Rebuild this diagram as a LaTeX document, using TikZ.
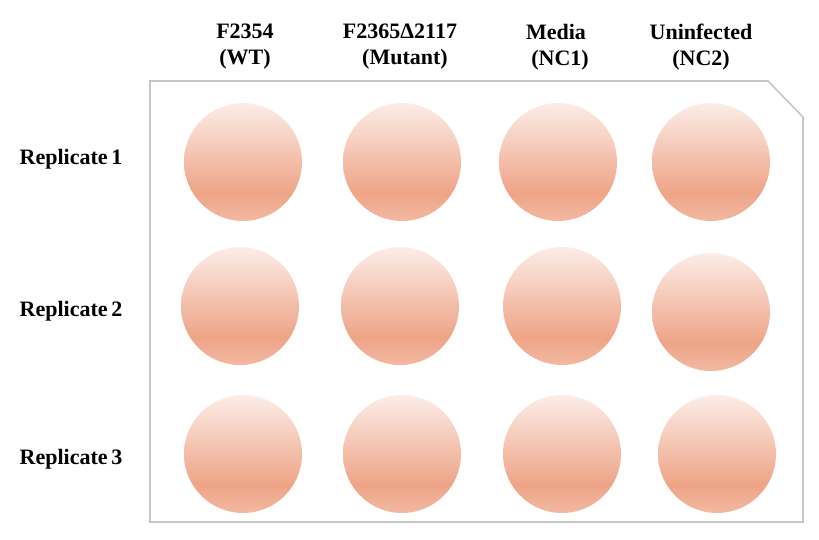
\documentclass[tikz,border=0pt]{standalone}
\usepackage{fontspec}
\setmainfont{Liberation Serif}
\usepackage{tikz}
\usetikzlibrary{positioning}

\definecolor{welltop}{HTML}{FCEDE8}
\definecolor{wellmid}{HTML}{EEA487}
\definecolor{wellbot}{HTML}{F2B9A2}
\definecolor{plategray}{HTML}{C6C6C6}
\pgfdeclareverticalshading{wellshade}{100bp}{color(0bp)=(wellbot); color(25bp)=(wellbot); color(37bp)=(wellmid); color(75bp)=(welltop); color(100bp)=(welltop)}

\tikzset{
  well/.style={circle,minimum size=118pt,inner sep=0pt,shading=wellshade},
  head/.style={font=\bfseries\fontsize{22}{26}\selectfont,align=center,inner sep=0pt},
  rowlab/.style={font=\bfseries\fontsize{22}{26}\selectfont,inner sep=0pt}
}

\begin{document}
\begin{tikzpicture}[x=1pt,y=-1pt]
	\useasboundingbox (0,0) rectangle (819,540);
	% plate
	\coordinate (p1) at (150,81);
	\coordinate (p2) at (768,81);
	\coordinate (p3) at (803,117);
	\coordinate (p4) at (803,522);
	\coordinate (p5) at (150,522);
	\draw[plategray,line width=1.6pt] (p1) -- (p2) -- (p3) -- (p4) -- (p5) -- cycle;
	% wells
	\node[well] (w11) at (243,162) {};
	\node[well] (w12) at (402,162) {};
	\node[well] (w13) at (558,162) {};
	\node[well] (w14) at (711,162) {};
	\node[well] (w21) at (240,306) {};
	\node[well] (w22) at (400,306) {};
	\node[well] (w23) at (562,306) {};
	\node[well] (w24) at (711,312) {};
	\node[well] (w31) at (243,454) {};
	\node[well] (w32) at (402,454) {};
	\node[well] (w33) at (562,454) {};
	\node[well] (w34) at (717,454) {};
	% column headers
	\node[head] (wt) at (245,47) {F2354\\(WT)};
	\node[head] (mut) at (400,47) {F2365Δ2117\\\hspace*{10pt}(Mutant)};
	\node[head] (nc1) at (556,47) {Media\\\hspace*{8pt}(NC1)};
	\node[head] (nc2) at (701,47) {Uninfected\\(NC2)};
	% row labels
	\node[rowlab] (r1) at (71,159) {Replicate\,1};
	\node[rowlab] (r2) at (71,311) {Replicate\,2};
	\node[rowlab] (r3) at (71,459) {Replicate\,3};
\end{tikzpicture}
\end{document}
